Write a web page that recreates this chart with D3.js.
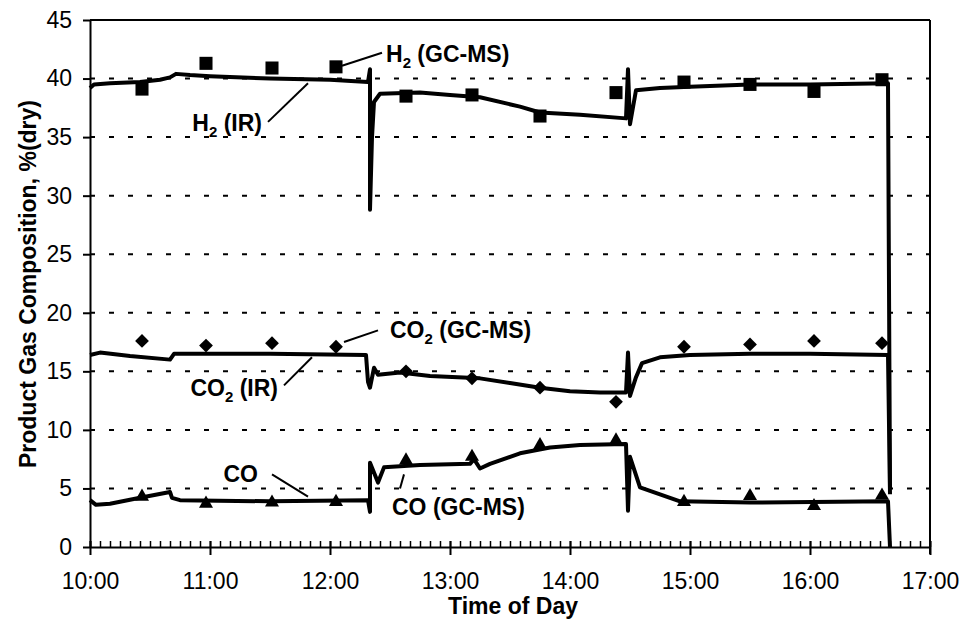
<!DOCTYPE html>
<html>
<head>
<meta charset="utf-8">
<script src="https://cdn.jsdelivr.net/npm/d3@7"></script>
<style>
  body { margin: 0; background: #fff; }
  text { font-family: "Liberation Sans", Arial, sans-serif; fill: #000; }
</style>
</head>
<body>
<svg id="chart" width="962" height="619"></svg>
<script>
// IR analyser traces, [time, % dry]
var irH2 = [["10:00",39.2],["10:02",39.5],["10:10",39.6],["10:25",39.7],["10:35",39.9],["10:40",40.1],["10:43",40.4],["10:50",40.3],["11:00",40.2],["11:30",40.0],["12:00",39.9],["12:19",39.7],["12:20",40.8],["12:20",28.8],["12:21",35.0],["12:22",38.0],["12:25",38.7],["12:45",38.8],["13:00",38.6],["13:15",38.4],["13:35",37.6],["13:45",37.1],["14:05",36.9],["14:28",36.6],["14:29",40.8],["14:30",36.1],["14:33",39.0],["14:45",39.2],["15:00",39.3],["15:30",39.5],["16:00",39.5],["16:39",39.6],["16:40",5.0]];
var irCO2 = [["10:00",16.4],["10:05",16.6],["10:20",16.3],["10:40",16.0],["10:42",16.5],["11:30",16.5],["12:18",16.4],["12:19",14.1],["12:20",13.6],["12:22",15.3],["12:24",14.7],["12:35",14.9],["12:50",14.6],["13:15",14.4],["13:30",14.0],["13:45",13.6],["14:00",13.3],["14:15",13.2],["14:28",13.2],["14:29",16.6],["14:30",12.9],["14:33",14.5],["14:36",15.7],["14:45",16.2],["15:00",16.4],["15:30",16.5],["16:00",16.5],["16:39",16.4],["16:40",4.5]];
var irCO = [["10:00",4.0],["10:03",3.6],["10:10",3.7],["10:25",4.2],["10:40",4.7],["10:41",4.2],["10:45",4.0],["11:30",3.9],["12:19",4.0],["12:20",3.0],["12:20",7.2],["12:24",5.5],["12:27",6.8],["12:45",7.0],["13:10",7.1],["13:12",7.5],["13:15",6.7],["13:20",7.1],["13:35",8.0],["13:50",8.5],["14:05",8.7],["14:28",8.8],["14:29",3.1],["14:30",7.7],["14:35",5.1],["14:45",4.5],["14:55",3.9],["15:30",3.8],["16:39",3.9],["16:40",0]];

// GC-MS grab samples
var gcTimes = ["10:26","10:58","11:31","12:03","12:38","13:11","13:45","14:23","14:57","15:30","16:02","16:36"];
var gcH2 = [39.1,41.3,40.9,41.0,38.5,38.6,36.8,38.8,39.7,39.5,38.9,39.9];
var gcCO2 = [17.6,17.2,17.4,17.1,15.0,14.4,13.6,12.4,17.1,17.3,17.6,17.4];
var gcCO = [4.3,3.7,3.8,3.85,7.4,7.7,8.7,9.1,3.85,4.35,3.5,4.4];

var yTicks = [0,5,10,15,20,25,30,35,40,45];
var gridValues = [5,10,15,20,25,30,35,40];

// label, text anchor [time,value], leader from [time,value] to [time,value], text-anchor
var notes = [
  {main: "H", sub: "2", rest: " (GC-MS)", at: ["12:28",42.1], from: ["12:06",41.1], to: ["12:26",42.2], anchor: "start"},
  {main: "H", sub: "2", rest: " (IR)", at: ["11:26",36.2], from: ["11:29",36.3], to: ["11:49",39.6], anchor: "end"},
  {main: "CO", sub: "2", rest: " (GC-MS)", at: ["12:30",18.5], from: ["12:07",17.5], to: ["12:24",18.5], anchor: "start"},
  {main: "CO", sub: "2", rest: " (IR)", at: ["11:34",13.6], from: ["11:37",13.8], to: ["11:51",16.2], anchor: "end"},
  {main: "CO", sub: "", rest: "", at: ["11:24",6.2], from: ["11:31",6.2], to: ["11:49",4.3], anchor: "end"},
  {main: "CO", sub: "", rest: " (GC-MS)", at: ["12:31",3.4], from: ["12:35",5.0], to: ["12:37",6.2], anchor: "start"}
];

var parse = d3.timeParse('%H:%M');
var svg = d3.select('#chart');

var x = d3.scaleTime().domain([parse('10:00'), parse('17:00')]).range([90, 930]);
var y = d3.scaleLinear().domain([0, 45]).range([547, 20]);

// dashed grid
svg.append('g').selectAll('line').data(gridValues).enter().append('line')
  .attr('x1', x.range()[0]).attr('x2', x.range()[1])
  .attr('y1', function (d) { return y(d); }).attr('y2', function (d) { return y(d); })
  .attr('stroke', '#000').attr('stroke-width', 2).attr('stroke-dasharray', '5,14');

// frame top + right
svg.append('line').attr('x1', 90).attr('x2', 930).attr('y1', y(45)).attr('y2', y(45))
  .attr('stroke', '#000').attr('stroke-width', 2);
svg.append('line').attr('x1', x(parse('17:00'))).attr('x2', x(parse('17:00')))
  .attr('y1', y(45)).attr('y2', y(0) + 7).attr('stroke', '#000').attr('stroke-width', 2);

// minor ticks every 5 minutes, inside
var minor = svg.append('g').attr('transform', 'translate(0,' + y(0) + ')')
  .call(d3.axisBottom(x).ticks(d3.timeMinute.every(5)).tickSize(-6).tickFormat(''));
minor.select('.domain').remove();
minor.selectAll('line').attr('stroke', '#000').attr('stroke-width', 1.5);

// x axis
var xAxis = svg.append('g').attr('transform', 'translate(0,' + y(0) + ')')
  .call(d3.axisBottom(x).ticks(d3.timeHour.every(1)).tickFormat(d3.timeFormat('%H:%M'))
    .tickSizeInner(8).tickSizeOuter(0).tickPadding(18));
xAxis.select('.domain').attr('stroke', '#000').attr('stroke-width', 2);
xAxis.selectAll('.tick line').attr('stroke', '#000').attr('stroke-width', 2).attr('y1', -6);
xAxis.selectAll('text').attr('font-size', 23).attr('font-family', '"Liberation Sans", Arial, sans-serif');

// y axis
var yAxis = svg.append('g').attr('transform', 'translate(90,0)')
  .call(d3.axisLeft(y).tickValues(yTicks).tickSizeInner(7).tickSizeOuter(0).tickPadding(11));
yAxis.select('.domain').attr('stroke', '#000').attr('stroke-width', 2);
yAxis.selectAll('.tick line').attr('stroke', '#000').attr('stroke-width', 2);
yAxis.selectAll('text').attr('font-size', 23).attr('font-family', '"Liberation Sans", Arial, sans-serif');

// axis titles
svg.append('text').attr('x', 513).attr('y', 614).attr('text-anchor', 'middle')
  .attr('font-size', 23).attr('font-weight', 'bold').text('Time of Day');
svg.append('text').attr('transform', 'translate(36,284) rotate(-90)').attr('text-anchor', 'middle')
  .attr('font-size', 23).attr('font-weight', 'bold').text('Product Gas Composition, %(dry)');

// IR traces
var line = d3.line()
  .x(function (d) { return x(parse(d[0])); })
  .y(function (d) { return y(d[1]); });
[irH2, irCO2, irCO].forEach(function (s) {
  svg.append('path').datum(s).attr('d', line).attr('fill', 'none')
    .attr('stroke', '#000').attr('stroke-width', 4).attr('stroke-linejoin', 'round');
});

// GC-MS markers
function markers(vals, sym, size, rot) {
  svg.append('g').selectAll('path').data(vals).enter().append('path')
    .attr('d', d3.symbol().type(sym).size(size))
    .attr('transform', function (d, i) {
      return 'translate(' + x(parse(gcTimes[i])) + ',' + y(d) + ') rotate(' + rot + ')';
    })
    .attr('fill', '#000');
}
markers(gcH2, d3.symbolSquare, 170, 0);
markers(gcCO2, d3.symbolSquare, 95, 45);
markers(gcCO, d3.symbolTriangle, 85, 0);

// annotations
notes.forEach(function (n) {
  svg.append('line')
    .attr('x1', x(parse(n.from[0]))).attr('y1', y(n.from[1]))
    .attr('x2', x(parse(n.to[0]))).attr('y2', y(n.to[1]))
    .attr('stroke', '#000').attr('stroke-width', 2);
  var t = svg.append('text').attr('x', x(parse(n.at[0]))).attr('y', y(n.at[1]))
    .attr('dy', '0.35em').attr('text-anchor', n.anchor)
    .attr('font-size', 23).attr('font-weight', 'bold');
  t.append('tspan').text(n.main);
  if (n.sub) t.append('tspan').attr('font-size', 15).attr('dy', 6).text(n.sub);
  if (n.rest) t.append('tspan').attr('dy', n.sub ? -6 : 0).text(n.rest);
});
</script>
</body>
</html>
